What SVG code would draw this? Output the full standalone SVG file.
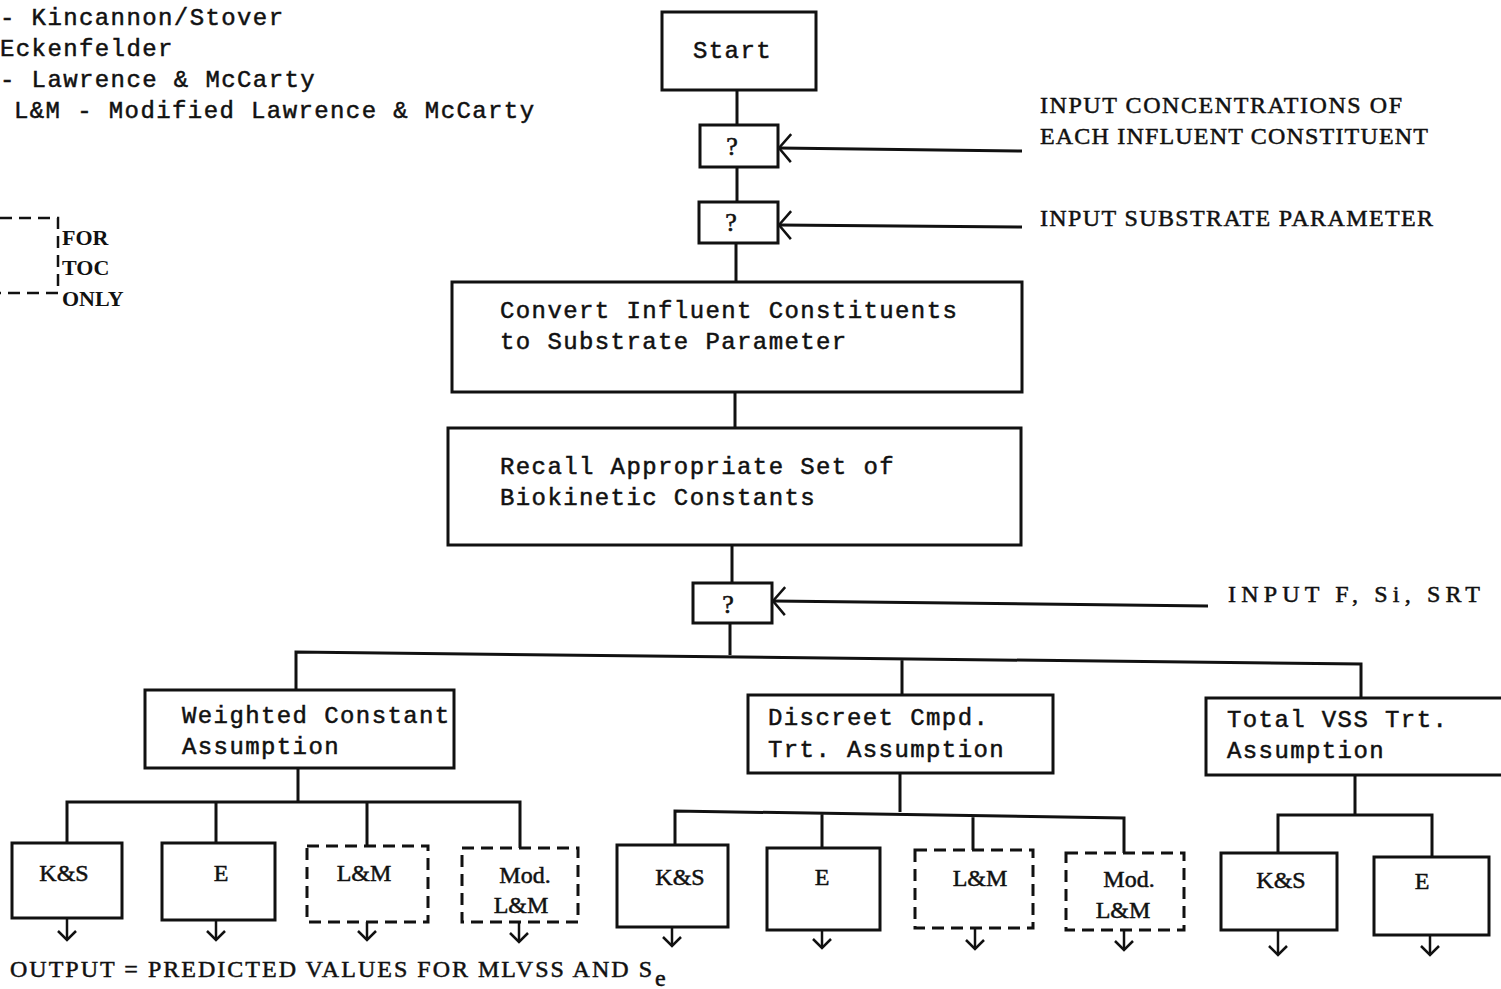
<svg xmlns="http://www.w3.org/2000/svg" width="1501" height="989" viewBox="0 0 1501 989">
<style>
.box{fill:#fff;stroke:#111;stroke-width:3}
.dbox{fill:#fff;stroke:#111;stroke-width:3;stroke-dasharray:12 7}
.ln{fill:none;stroke:#111;stroke-width:3}
.dl{fill:none;stroke:#111;stroke-width:2.5;stroke-dasharray:12 7}
.mono{font-family:"Liberation Mono",monospace;font-size:24px;letter-spacing:1.4px;fill:#111;stroke:#111;stroke-width:0.5}
.ser{font-family:"Liberation Serif",serif;font-size:24px;fill:#111;stroke:#111;stroke-width:0.5}
.lbl{font-family:"Liberation Serif",serif;font-size:24px;fill:#111;stroke:#111;stroke-width:0.5;text-anchor:middle}
.q{font-family:"Liberation Serif",serif;font-size:26px;fill:#111;stroke:#111;stroke-width:0.6;text-anchor:middle}
.bold{font-family:"Liberation Serif",serif;font-size:22px;font-weight:bold;fill:#111}
</style>
<defs>
<marker id="ah" viewBox="-16 -16 18 32" markerWidth="18" markerHeight="32" refX="0" refY="0" orient="auto" markerUnits="userSpaceOnUse">
<path d="M-12,-14 L0,0 L-12,14" fill="none" stroke="#111" stroke-width="2.5"/>
</marker>
<marker id="sh" viewBox="-12 -12 14 24" markerWidth="14" markerHeight="24" refX="0" refY="0" orient="auto" markerUnits="userSpaceOnUse">
<path d="M-9,-9 L0,0 L-9,9" fill="none" stroke="#111" stroke-width="2.5"/>
</marker>
</defs>
<rect width="1501" height="989" fill="#fff"/>

<g id="legend">
<text class="mono" x="0" y="25">- Kincannon/Stover</text>
<text class="mono" x="0" y="56">Eckenfelder</text>
<text class="mono" x="0" y="87">- Lawrence &amp; McCarty</text>
<text class="mono" x="14" y="118">L&amp;M - Modified Lawrence &amp; McCarty</text>
<path class="dl" d="M0,218 H58 V293 H0"/>
<text class="bold" x="62" y="245">FOR</text>
<text class="bold" x="62" y="275">TOC</text>
<text class="bold" x="62" y="306">ONLY</text>
</g>

<g id="connectors">
<path class="ln" d="M737,90 V125 M737,167 V202 M736,243 V282 M735,392 V428 M732,545 V583 M730,623 V655"/>
<path class="ln" d="M296,690 V652 L1361,664 V698 M902,658 V695"/>
<path class="ln" d="M298,768 V803 M67,843 V802 H520 V848 M216,803 V843 M367,803 V846"/>
<path class="ln" d="M900,773 V812 M675,845 V811 L1124,818 V853 M822,813 V848 M973,815 V850"/>
<path class="ln" d="M1355,775 V815 M1278,853 V815 H1432 V857"/>
<line class="ln" x1="1022" y1="151" x2="779" y2="148" marker-end="url(#ah)"/>
<line class="ln" x1="1022" y1="227" x2="779" y2="225" marker-end="url(#ah)"/>
<line class="ln" x1="1208" y1="606" x2="773" y2="601" marker-end="url(#ah)"/>
<g stroke="#111" stroke-width="2.5" fill="none">
<line x1="67" y1="918" x2="67" y2="940" marker-end="url(#sh)"/>
<line x1="216" y1="920" x2="216" y2="940" marker-end="url(#sh)"/>
<line x1="367" y1="922" x2="367" y2="940" marker-end="url(#sh)"/>
<line x1="519" y1="922" x2="519" y2="942" marker-end="url(#sh)"/>
<line x1="672" y1="927" x2="672" y2="946" marker-end="url(#sh)"/>
<line x1="822" y1="930" x2="822" y2="948" marker-end="url(#sh)"/>
<line x1="975" y1="928" x2="975" y2="949" marker-end="url(#sh)"/>
<line x1="1124" y1="930" x2="1124" y2="950" marker-end="url(#sh)"/>
<line x1="1278" y1="930" x2="1278" y2="955" marker-end="url(#sh)"/>
<line x1="1430" y1="935" x2="1430" y2="955" marker-end="url(#sh)"/>
</g>
</g>

<g id="start"><rect class="box" x="662" y="12" width="154" height="78"/><text class="mono" x="693" y="58">Start</text></g>
<g id="q1"><rect class="box" x="700" y="125" width="78" height="42"/><text class="q" x="732" y="155">?</text></g>
<g id="q2"><rect class="box" x="699" y="202" width="79" height="41"/><text class="q" x="731" y="231">?</text></g>
<g id="in1"><text class="ser" x="1040" y="113" textLength="362" lengthAdjust="spacing">INPUT CONCENTRATIONS OF</text><text class="ser" x="1040" y="144" textLength="388" lengthAdjust="spacing">EACH INFLUENT CONSTITUENT</text></g>
<g id="in2"><text class="ser" x="1040" y="226" textLength="393" lengthAdjust="spacing">INPUT SUBSTRATE PARAMETER</text></g>
<g id="convert"><rect class="box" x="452" y="282" width="570" height="110"/><text class="mono" x="500" y="318">Convert Influent Constituents</text><text class="mono" x="500" y="349">to Substrate Parameter</text></g>
<g id="recall"><rect class="box" x="448" y="428" width="573" height="117"/><text class="mono" x="500" y="474">Recall Appropriate Set of</text><text class="mono" x="500" y="505">Biokinetic Constants</text></g>
<g id="q3"><rect class="box" x="693" y="583" width="79" height="40"/><text class="q" x="728" y="613">?</text></g>
<g id="in3"><text class="ser" x="1228" y="602" textLength="252" lengthAdjust="spacing">INPUT F, Si, SRT</text></g>

<g id="weighted"><rect class="box" x="145" y="690" width="309" height="78"/><text class="mono" x="182" y="723">Weighted Constant</text><text class="mono" x="182" y="754">Assumption</text></g>
<g id="discreet"><rect class="box" x="748" y="695" width="305" height="78"/><text class="mono" x="768" y="725">Discreet Cmpd.</text><text class="mono" x="768" y="757">Trt. Assumption</text></g>
<g id="totalvss"><rect class="box" x="1206" y="698" width="300" height="77"/><text class="mono" x="1227" y="727">Total VSS Trt.</text><text class="mono" x="1227" y="758">Assumption</text></g>

<g id="ks1"><rect class="box" x="12" y="843" width="110" height="75"/><text class="lbl" x="64" y="881">K&amp;S</text></g>
<g id="e1"><rect class="box" x="162" y="843" width="113" height="77"/><text class="lbl" x="221" y="881">E</text></g>
<g id="lm1"><rect class="dbox" x="307" y="846" width="121" height="76"/><text class="lbl" x="364" y="881">L&amp;M</text></g>
<g id="mlm1"><rect class="dbox" x="462" y="848" width="116" height="74"/><text class="lbl" x="525" y="883">Mod.</text><text class="lbl" x="521" y="913">L&amp;M</text></g>

<g id="ks2"><rect class="box" x="617" y="845" width="111" height="82"/><text class="lbl" x="680" y="885">K&amp;S</text></g>
<g id="e2"><rect class="box" x="767" y="848" width="113" height="82"/><text class="lbl" x="822" y="885">E</text></g>
<g id="lm2"><rect class="dbox" x="915" y="850" width="118" height="78"/><text class="lbl" x="980" y="886">L&amp;M</text></g>
<g id="mlm2"><rect class="dbox" x="1066" y="853" width="118" height="77"/><text class="lbl" x="1129" y="887">Mod.</text><text class="lbl" x="1123" y="918">L&amp;M</text></g>

<g id="ks3"><rect class="box" x="1221" y="853" width="116" height="77"/><text class="lbl" x="1281" y="888">K&amp;S</text></g>
<g id="e3"><rect class="box" x="1374" y="857" width="115" height="78"/><text class="lbl" x="1422" y="889">E</text></g>

<g id="output"><text class="ser" x="10" y="977" textLength="642" lengthAdjust="spacing">OUTPUT = PREDICTED VALUES FOR MLVSS AND S</text><text class="ser" x="655" y="986">e</text></g>
</svg>
